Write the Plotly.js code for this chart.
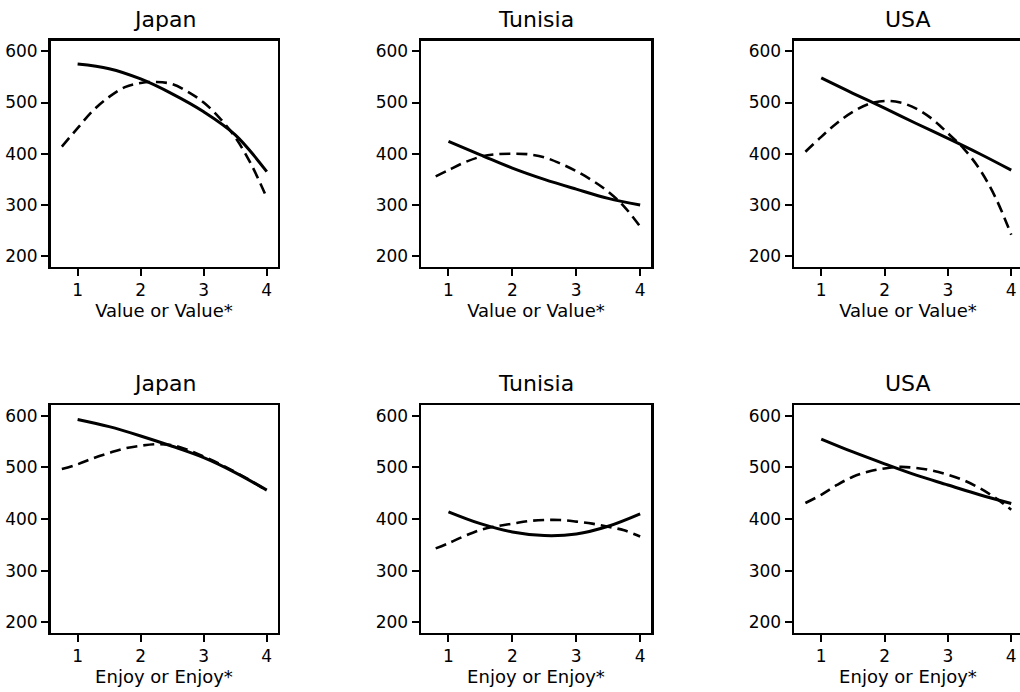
<!DOCTYPE html>
<html>
<head>
<meta charset="utf-8">
<script src="https://cdn.plot.ly/plotly-3.0.1.min.js"></script>
<style>
html,body{margin:0;padding:0;overflow:hidden;background:#fff;width:1020px;height:692px;}
#chart{width:1024px;height:692px;}
</style>
</head>
<body>
<div id="chart"></div>
<script>
// ---- data ----
const countries = ["Japan", "Tunisia", "USA"];
const rowTitles = ["Value or Value*", "Enjoy or Enjoy*"];
const xTicks = [1, 2, 3, 4];
const yTicks = [200, 300, 400, 500, 600];

const xFit = [1, 1.5, 2, 2.5, 3, 3.5, 4];
const xStar = [0.75, 1, 1.25, 1.5, 1.75, 2, 2.25, 2.5, 2.75, 3, 3.25, 3.5, 3.75, 4];
const xStarTun = [0.8, 1, 1.25, 1.5, 1.75, 2, 2.25, 2.5, 2.75, 3, 3.25, 3.5, 3.75, 4];

// Value (top row)
const japanValue     = [575, 566, 546, 517, 482, 437, 365];
const japanValueStar = [414, 450, 485, 511, 530, 538, 540, 536, 521, 500, 470, 432, 380, 314];
const tunisiaValue     = [424, 398, 372, 350, 331, 313, 300];
const tunisiaValueStar = [356, 368, 383, 394, 399, 400, 399, 393, 381, 366, 348, 326, 297, 258];
const usaValue     = [548, 518, 489, 459, 430, 400, 368];
const usaValueStar = [404, 433, 460, 482, 497, 503, 500, 488, 468, 440, 410, 370, 315, 242];

// Enjoy (bottom row)
const japanEnjoy     = [593, 579, 561, 541, 519, 490, 456];
const japanEnjoyStar = [497, 506, 518, 528, 537, 542, 545, 543, 534, 521, 507, 491, 474, 455];
const tunisiaEnjoy     = [414, 391, 375, 368, 371, 386, 410];
const tunisiaEnjoyStar = [343, 353, 367, 379, 386, 391, 396, 398, 398, 395, 391, 385, 378, 366];
const usaEnjoy     = [555, 530, 507, 485, 466, 447, 430];
const usaEnjoyStar = [431, 447, 466, 482, 492, 498, 501, 499, 494, 486, 475, 460, 441, 418];

// ---- build ----
const W = 1024, H = 692;
const colPx = [[50.5, 277.5], [421, 651], [794, 1022]];
const rowPx = [[40.5, 266.5], [405, 632.5]];
const FONT = "DejaVu Sans, Verdana, sans-serif";

const panels = [
  [[xFit, japanValue, xStar, japanValueStar], [xFit, tunisiaValue, xStarTun, tunisiaValueStar], [xFit, usaValue, xStar, usaValueStar]],
  [[xFit, japanEnjoy, xStar, japanEnjoyStar], [xFit, tunisiaEnjoy, xStarTun, tunisiaEnjoyStar], [xFit, usaEnjoy, xStar, usaEnjoyStar]]
];

const traces = [];
const layout = {
  width: W, height: H,
  margin: {l: 0, r: 0, t: 0, b: 0},
  paper_bgcolor: "#fff", plot_bgcolor: "#fff",
  showlegend: false,
  font: {family: FONT, color: "#000", size: 17},
  annotations: []
};

let n = 0;
for (let r = 0; r < 2; r++) {
  for (let c = 0; c < 3; c++) {
    n++;
    const xa = n === 1 ? "xaxis" : "xaxis" + n;
    const ya = n === 1 ? "yaxis" : "yaxis" + n;
    const xr = n === 1 ? "x" : "x" + n;
    const yr = n === 1 ? "y" : "y" + n;
    const p = panels[r][c];
    traces.push({x: p[0], y: p[1], xaxis: xr, yaxis: yr, mode: "lines",
      line: {color: "#000", width: 3, shape: "spline"}, hoverinfo: "skip"});
    traces.push({x: p[2], y: p[3], xaxis: xr, yaxis: yr, mode: "lines",
      line: {color: "#000", width: 2.6, dash: "11px,6px", shape: "spline"}, hoverinfo: "skip"});
    const common = {
      showline: true, mirror: true, linecolor: "#000", linewidth: 2.5,
      ticks: "outside", ticklen: 7, tickwidth: 2, tickcolor: "#000",
      showgrid: false, zeroline: false, fixedrange: true,
      tickfont: {family: FONT, size: 17, color: "#000"}
    };
    layout[xa] = Object.assign({}, common, {
      domain: [colPx[c][0] / W, colPx[c][1] / W],
      range: [0.57, 4.17], tickmode: "array", tickvals: xTicks,
      anchor: yr,
      title: {text: rowTitles[r], font: {family: FONT, size: 18, color: "#000"}, standoff: 2}
    });
    layout[ya] = Object.assign({}, common, {
      domain: [(H - rowPx[r][1]) / H, (H - rowPx[r][0]) / H],
      range: [180, 621], tickmode: "array", tickvals: yTicks,
      anchor: xr
    });
    layout.annotations.push({
      text: countries[c], xref: "paper", yref: "paper",
      x: (colPx[c][0] + colPx[c][1]) / 2 / W,
      y: (H - rowPx[r][0] + 21) / H,
      xanchor: "center", yanchor: "middle", showarrow: false,
      font: {family: FONT, size: 22, color: "#000"}
    });
  }
}

Plotly.newPlot("chart", traces, layout, {staticPlot: true, displayModeBar: false});
</script>
</body>
</html>
